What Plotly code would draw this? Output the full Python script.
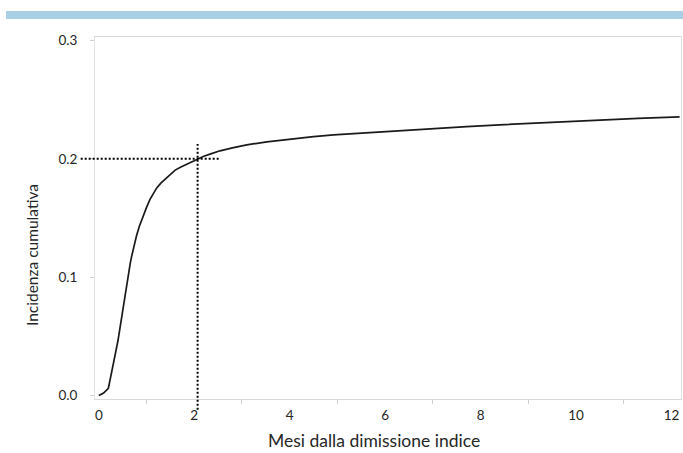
import plotly.graph_objects as go

# Data
months = [0, 0.1, 0.2, 0.27, 0.34, 0.4, 0.44, 0.48, 0.51, 0.55, 0.58, 0.62, 0.66, 0.69,
          0.73, 0.79, 0.85, 0.93, 1.0, 1.07, 1.14, 1.21, 1.3, 1.4, 1.49, 1.6, 1.72, 1.84,
          1.95, 2.05, 2.2, 2.33, 2.54, 2.8, 3.1, 3.52, 4.0, 4.5, 4.92, 5.5, 6.31, 7.0,
          7.71, 8.4, 9.11, 9.8, 10.5, 11.3, 12.17]
incidence = [0, 0.002, 0.006, 0.019, 0.033, 0.046, 0.056, 0.066, 0.075, 0.085, 0.095,
             0.104, 0.112, 0.118, 0.125, 0.135, 0.143, 0.152, 0.159, 0.1655, 0.1708, 0.1752,
             0.1795, 0.1832, 0.187, 0.1905, 0.1932, 0.1955, 0.1978, 0.200, 0.2022, 0.204, 0.2068,
             0.2093, 0.2118, 0.2144, 0.2168, 0.2188, 0.2202, 0.2218, 0.2236, 0.2255, 0.2273,
             0.2288, 0.2302, 0.2316, 0.233, 0.2342, 0.2354]

x_ticks = [0, 2, 4, 6, 8, 10, 12]
y_ticks = [0.0, 0.1, 0.2, 0.3]
x_title = "Mesi dalla dimissione indice"
y_title = "Incidenza cumulativa"

ref_x = 2.07          # time at which the curve reaches 0.2
ref_y = 0.2
h_line_from, h_line_to = -0.38, 2.54
v_line_from, v_line_to = -0.012, 0.2125

x_range = [-0.08, 12.2]
y_range = [-0.003, 0.303]

W, H = 683, 453
ML, MR, MT, MB = 95, 2, 37, 54
PW, PH = W - ML - MR, H - MT - MB


def xpaper(v):
    return (v - x_range[0]) / (x_range[1] - x_range[0])


def ypaper(v):
    return (v - y_range[0]) / (y_range[1] - y_range[0])


def px_x(p):   # page pixel -> paper x
    return (p - ML) / PW


def px_y(p):   # page pixel -> paper y
    return (H - MB - p) / PH


FONT = "Lato"
TXT = "#262626"

fig = go.Figure()
fig.add_trace(go.Scatter(x=months, y=incidence, mode="lines",
                         line=dict(color="#1a1a1a", width=1.7), showlegend=False))

fig.update_layout(
    width=W, height=H,
    margin=dict(l=ML, r=MR, t=MT, b=MB),
    paper_bgcolor="white", plot_bgcolor="white",
    font=dict(family=FONT, color=TXT),
    xaxis=dict(range=x_range, tickvals=x_ticks, ticktext=[str(v) for v in x_ticks],
               showgrid=False, zeroline=False, showline=True, mirror=True,
               linecolor="#d9d9d9", linewidth=1, ticks="", ticklabelstandoff=4,
               tickfont=dict(size=13.5, family=FONT, color=TXT),
               minor=dict(tick0=1, dtick=2, ticks="outside", ticklen=4, tickcolor="#d0d0d0")),
    yaxis=dict(range=y_range, tickvals=y_ticks, ticktext=["%.1f" % v for v in y_ticks],
               showgrid=False, zeroline=False, showline=True, mirror=True,
               linecolor="#e3e3e3", linewidth=1, ticks="outside", ticklen=4,
               tickcolor="#d0d0d0", ticklabelstandoff=10,
               tickfont=dict(size=13.5, family=FONT, color=TXT)),
)

# Axis titles (placed like the reference, which is off-centre)
fig.add_annotation(text=x_title, xref="paper", yref="paper", x=px_x(374), y=px_y(440),
                   showarrow=False, font=dict(size=17.5, family=FONT, color=TXT),
                   xanchor="center", yanchor="middle")
fig.add_annotation(text=y_title, xref="paper", yref="paper", x=px_x(32), y=px_y(255),
                   showarrow=False, textangle=-90, font=dict(size=15.5, family=FONT, color=TXT),
                   xanchor="center", yanchor="middle")

# Top decorative band
fig.add_shape(type="rect", xref="paper", yref="paper",
              x0=px_x(6), x1=px_x(690), y0=px_y(19), y1=px_y(11),
              fillcolor="#a8cfe3", line=dict(width=0), layer="above")

# Dotted reference lines (paper coords so they can extend outside the plot area)
fig.add_shape(type="line", xref="paper", yref="paper",
              x0=xpaper(h_line_from), x1=xpaper(h_line_to),
              y0=ypaper(ref_y), y1=ypaper(ref_y),
              line=dict(color="black", width=2, dash="2px,2px"))
fig.add_shape(type="line", xref="paper", yref="paper",
              x0=xpaper(ref_x), x1=xpaper(ref_x),
              y0=ypaper(v_line_from), y1=ypaper(v_line_to),
              line=dict(color="black", width=2, dash="2px,2px"))

fig.write_html("out.html", config={"displayModeBar": False},
               post_script="document.body.style.margin='0';document.body.style.overflow='hidden';")
